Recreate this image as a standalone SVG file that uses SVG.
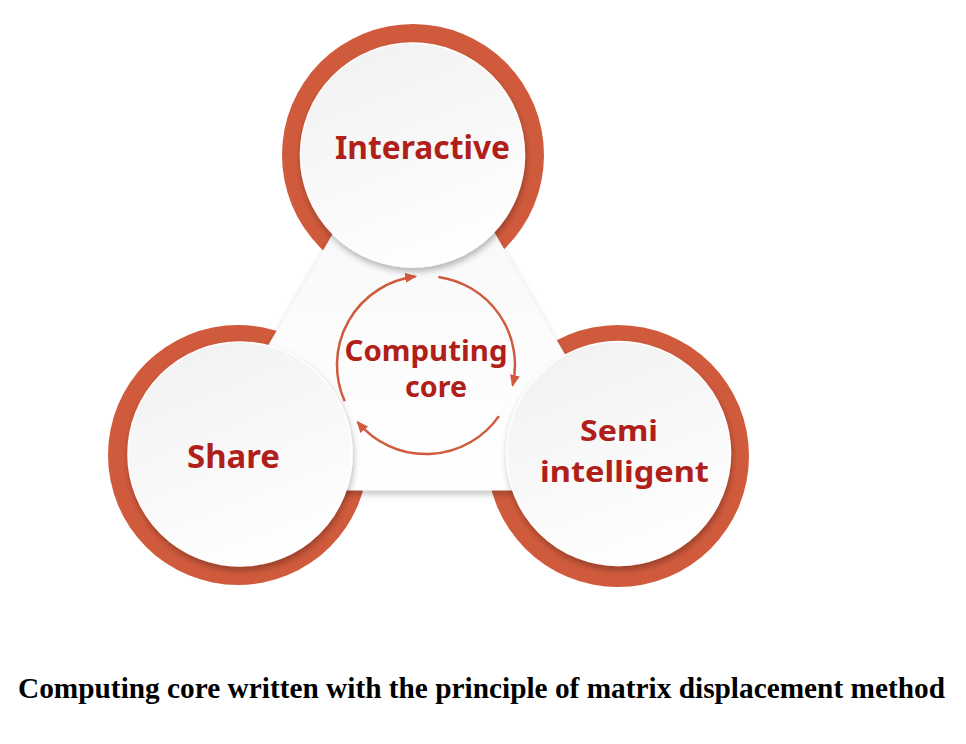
<svg xmlns="http://www.w3.org/2000/svg" width="966" height="744" viewBox="0 0 966 744">
  <defs>
    <style>
      .ring { fill: #d05a3c; }
      .disc { fill: url(#discGrad); stroke: #ffffff; stroke-width: 1.5; filter: url(#discShadow); }
      .label { font-family: "Noto Sans", "Open Sans", sans-serif; font-weight: bold; fill: #b01f1a; text-anchor: middle; }
      .cycle { fill: none; stroke: #d05a3c; stroke-width: 2.5; marker-end: url(#arrow); }
      .caption { font-family: "Liberation Serif", "Times New Roman", serif; font-weight: bold; fill: #000000; }
    </style>
    <linearGradient id="discGrad" x1="0.3" y1="0" x2="0.7" y2="1">
      <stop offset="0" stop-color="#f2f2f2"/>
      <stop offset="1" stop-color="#ffffff"/>
    </linearGradient>
    <linearGradient id="triGrad" x1="0" y1="0" x2="0" y2="1">
      <stop offset="0" stop-color="#f6f6f6"/>
      <stop offset="1" stop-color="#ffffff"/>
    </linearGradient>
    <filter id="discShadow" x="-20%" y="-20%" width="140%" height="150%">
      <feDropShadow dx="1" dy="4" stdDeviation="3" flood-color="#000000" flood-opacity="0.28"/>
    </filter>
    <filter id="triShadow" x="-20%" y="-20%" width="140%" height="140%">
      <feDropShadow dx="0" dy="4" stdDeviation="3" flood-color="#000000" flood-opacity="0.22"/>
    </filter>
    <marker id="arrow" markerUnits="userSpaceOnUse" markerWidth="12" markerHeight="10" viewBox="0 0 12 10" refX="10" refY="5" orient="auto">
      <path d="M0,0 L12,5 L0,10 z" fill="#d05a3c"/>
    </marker>
  </defs>

  <rect x="0" y="0" width="966" height="744" fill="#ffffff"/>

  <!-- red rings (behind triangle) -->
  <g id="rings">
    <circle class="ring" cx="413" cy="155" r="131"/>
    <circle class="ring" cx="238" cy="455" r="130"/>
    <circle class="ring" cx="618" cy="456" r="131"/>
  </g>

  <!-- central triangle -->
  <g id="core-panel">
    <path d="M414,94 L643,490 L185,490 Z" fill="url(#triGrad)" stroke="#f4f4f4" stroke-width="1" stroke-linejoin="round" filter="url(#triShadow)"/>
  </g>

  <!-- connectors: cycle arrows -->
  <g id="connectors">
    <path class="cycle" d="M438.4,276.9 A89,89 0 0 1 512.7,385.0"/>
    <path class="cycle" d="M498.9,416.1 A89,89 0 0 1 357.8,422.2"/>
    <path class="cycle" d="M344.7,401.2 A89,89 0 0 1 415.2,276.6"/>
  </g>

  <g id="node-core">
    <text class="label" x="426" y="361" font-size="28" textLength="163" lengthAdjust="spacingAndGlyphs">Computing</text>
    <text class="label" x="436" y="397" font-size="28" textLength="62" lengthAdjust="spacingAndGlyphs">core</text>
  </g>

  <g id="node-interactive">
    <circle class="disc" cx="412.5" cy="155" r="112"/>
    <text class="label" x="422.5" y="159" font-size="32" textLength="175" lengthAdjust="spacingAndGlyphs">Interactive</text>
  </g>

  <g id="node-share">
    <circle class="disc" cx="240" cy="454" r="112"/>
    <text class="label" x="233.5" y="468" font-size="33" textLength="93" lengthAdjust="spacingAndGlyphs">Share</text>
  </g>

  <g id="node-semi">
    <circle class="disc" cx="618.5" cy="453.5" r="112"/>
    <text class="label" x="619" y="441" font-size="29" textLength="78" lengthAdjust="spacingAndGlyphs">Semi</text>
    <text class="label" x="624.5" y="482" font-size="29" textLength="169" lengthAdjust="spacingAndGlyphs">intelligent</text>
  </g>

  <g id="caption">
    <text class="caption" x="18" y="698" font-size="29" textLength="927" lengthAdjust="spacingAndGlyphs">Computing core written with the principle of matrix displacement method</text>
  </g>
</svg>
